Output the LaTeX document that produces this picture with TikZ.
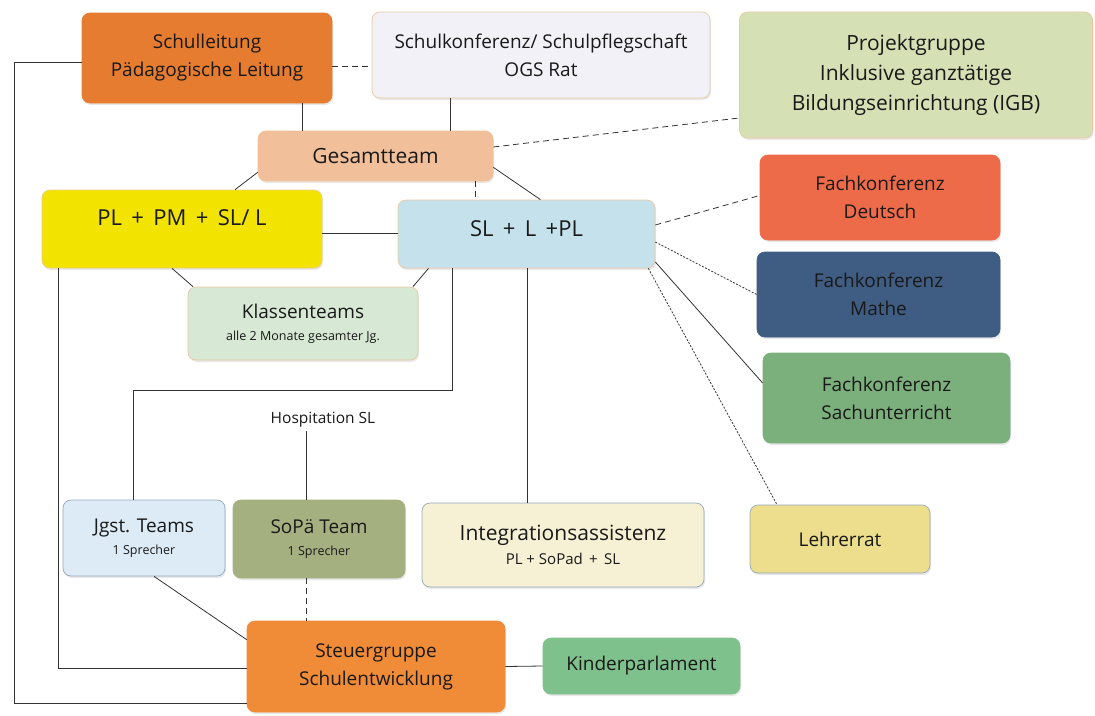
\documentclass[tikz,border=0pt]{standalone}
\usepackage{fontspec}
\setmainfont{Open Sans}
\usepackage{xcolor}
\usetikzlibrary{positioning, shadows}

\definecolor{leitung}{HTML}{E57C2F}
\definecolor{konferenz}{HTML}{F2F1F7}
\definecolor{projekt}{HTML}{D5E0B4}
\definecolor{gesamt}{HTML}{F1BF9A}
\definecolor{gelb}{HTML}{F3E300}
\definecolor{hellblau}{HTML}{C5E2EC}
\definecolor{klassen}{HTML}{D7E9D4}
\definecolor{deutsch}{HTML}{EE6B49}
\definecolor{mathe}{HTML}{3F5C83}
\definecolor{sach}{HTML}{7BAF7C}
\definecolor{jgst}{HTML}{DDEBF6}
\definecolor{sopa}{HTML}{A5B081}
\definecolor{integ}{HTML}{F6F1D4}
\definecolor{lehrer}{HTML}{ECDE8C}
\definecolor{steuer}{HTML}{F08B37}
\definecolor{kinder}{HTML}{7EC18C}
\definecolor{rand}{HTML}{E9C9A0}
\definecolor{blaurand}{HTML}{95A8BC}
\definecolor{linie}{HTML}{333333}

\newcommand{\klein}[1]{{\fontsize{12.5}{14}\selectfont #1}}

\tikzset{
  box/.style={rounded corners=8pt, draw=rand, line width=0.7pt, align=center, inner sep=2pt,
    font=\fontsize{19}{28}\selectfont, text=black!90,
    drop shadow={opacity=0.18, shadow xshift=1pt, shadow yshift=-2pt}},
  con/.style={draw=linie, line width=0.8pt},
  gestrichelt/.style={dash pattern=on 6pt off 4pt},
  punktiert/.style={dash pattern=on 2pt off 1.5pt},
}

\begin{document}
\begin{tikzpicture}[x=1pt, y=-1pt]
      \useasboundingbox (0,0) rectangle (1095,715);

      \node[box, fill=leitung, draw=leitung, minimum width=250pt, minimum height=90pt] (leitung) at (207,58) {Schulleitung\\Pädagogische Leitung};
      \node[box, fill=konferenz, minimum width=338pt, minimum height=86pt] (konferenz) at (541,55) {Schulkonferenz/ Schulpflegschaft\\OGS Rat};
      \node[box, fill=projekt, minimum width=353pt, minimum height=126pt, font=\fontsize{21}{30}\selectfont] (projekt) at (916,75) {Projektgruppe\\Inklusive ganztätige\\Bildungseinrichtung (IGB)};
      \node[box, fill=gesamt, draw=gesamt, minimum width=235pt, minimum height=50pt, font=\fontsize{21}{28}\selectfont] (gesamt) at (375.5,156) {Gesamtteam};
      \node[box, fill=gelb, draw=rand!80!gelb, minimum width=280pt, minimum height=78pt, text height=16pt, text depth=24pt, font=\fontsize{22}{28}\selectfont] (plpm) at (182,229) {PL \,+\, PM \,+\, SL/ L};
      \node[box, fill=hellblau, minimum width=257pt, minimum height=68pt, text height=16pt, text depth=12pt, font=\fontsize{22}{28}\selectfont] (slpl) at (526.5,234) {SL \,+\, L \,+PL};
      \node[box, fill=klassen, minimum width=230pt, minimum height=73pt] (klassen) at (303,323.5) {Klassenteams\\[-6pt]\klein{alle 2 Monate gesamter Jg.}};
      \node[box, fill=deutsch, draw=deutsch, minimum width=240pt, minimum height=85pt] (deutsch) at (880,197.5) {Fachkonferenz\\Deutsch};
      \node[box, fill=mathe, draw=mathe, minimum width=243pt, minimum height=85pt] (mathe) at (878.5,294.5) {Fachkonferenz\\Mathe};
      \node[box, fill=sach, draw=sach, minimum width=247pt, minimum height=90pt] (sach) at (886.5,398) {Fachkonferenz\\Sachunterricht};
      \node[font=\fontsize{15.5}{18}\selectfont, text=black!90] (hosp) at (323,420) {Hospitation SL};
      \node[box, fill=jgst, draw=blaurand, minimum width=162pt, minimum height=76pt] (jgst) at (144,538) {Jgst. Teams\\[-6pt]\klein{1 Sprecher}};
      \node[box, fill=sopa, draw=sopa, minimum width=172pt, minimum height=78pt] (sopa) at (319,539) {SoPä Team\\[-6pt]\klein{1 Sprecher}};
      \node[box, fill=integ, draw=blaurand, minimum width=282pt, minimum height=84pt, font=\fontsize{21}{28}\selectfont] (integ) at (563,545) {Integrationsassistenz\\[-4pt]{\fontsize{15}{17}\selectfont PL + SoPad \,+\, SL}};
      \node[box, fill=lehrer, draw=blaurand, minimum width=180pt, minimum height=68pt] (lehrer) at (840,539) {Lehrerrat};
      \node[box, fill=steuer, draw=steuer, minimum width=258pt, minimum height=91pt] (steuer) at (376,666.5) {Steuergruppe\\Schulentwicklung};
      \node[box, fill=kinder, draw=kinder, minimum width=197pt, minimum height=56pt] (kinder) at (641.5,666) {Kinderparlament};

      \draw[con] ([xshift=95pt]leitung.south) -- ([xshift=95pt]leitung.south |- gesamt.north);
      \draw[con] ([xshift=-91pt]konferenz.south) -- ([xshift=-91pt]konferenz.south |- gesamt.north);
      \draw[con, gestrichelt] ([yshift=-8pt]leitung.east) -- ([yshift=-8pt]leitung.east -| konferenz.west);
      \draw[con, gestrichelt] ([yshift=9pt]gesamt.east) -- ([yshift=-43pt]projekt.west);
      \draw[con] ([yshift=9pt]gesamt.south west) -- ([xshift=53pt]plpm.north);
      \draw[con] ([yshift=14pt]gesamt.south east) -- ([xshift=14pt]slpl.north);
      \draw[con, gestrichelt] ([xshift=100pt]gesamt.south) -- ([xshift=100pt]gesamt.south |- slpl.north);
      \draw[con] ([yshift=-4pt]plpm.east) -- ([yshift=-4pt]plpm.east -| slpl.west);
      \draw[con] ([xshift=-10pt]plpm.south) -- ([xshift=-110pt]klassen.north);
      \draw[con] ([xshift=-98pt]slpl.south) -- ([xshift=110pt]klassen.north);
      \draw[con] ([xshift=-74pt]slpl.south) -- ++(0,122) -| ([xshift=-11pt]jgst.north);
      \draw[con] ([xshift=-13pt]sopa.north) -- ([xshift=-13pt]sopa.north |- hosp.south);
      \draw[con] ([xshift=0.5pt]slpl.south) -- ([xshift=0.5pt]slpl.south |- integ.north);
      \draw[con, gestrichelt] ([yshift=9pt]slpl.east) -- ([yshift=2pt]deutsch.west);
      \draw[con, punktiert] ([yshift=-8pt]slpl.east) -- (mathe.west);
      \draw[con] ([yshift=-28pt]slpl.east) -- ([yshift=15pt]sach.west);
      \draw[con, punktiert] ([xshift=-7pt]slpl.south east) -- ([xshift=-63pt]lehrer.north);
      \draw[con] ([xshift=10pt]jgst.south) -- ([yshift=-19pt]steuer.north west);
      \draw[con, gestrichelt] ([xshift=-13pt]sopa.south) -- ([xshift=-13pt]sopa.south |- steuer.north);
      \draw[con] (steuer.east) -- (kinder.west);
      \draw[con] ([yshift=-4pt]leitung.west) -- ++(-67,0) |- ([yshift=-37pt]steuer.west);
      \draw[con] ([xshift=-124pt]plpm.south) |- ([yshift=-1.5pt]steuer.west);

    \end{tikzpicture}
\end{document}
